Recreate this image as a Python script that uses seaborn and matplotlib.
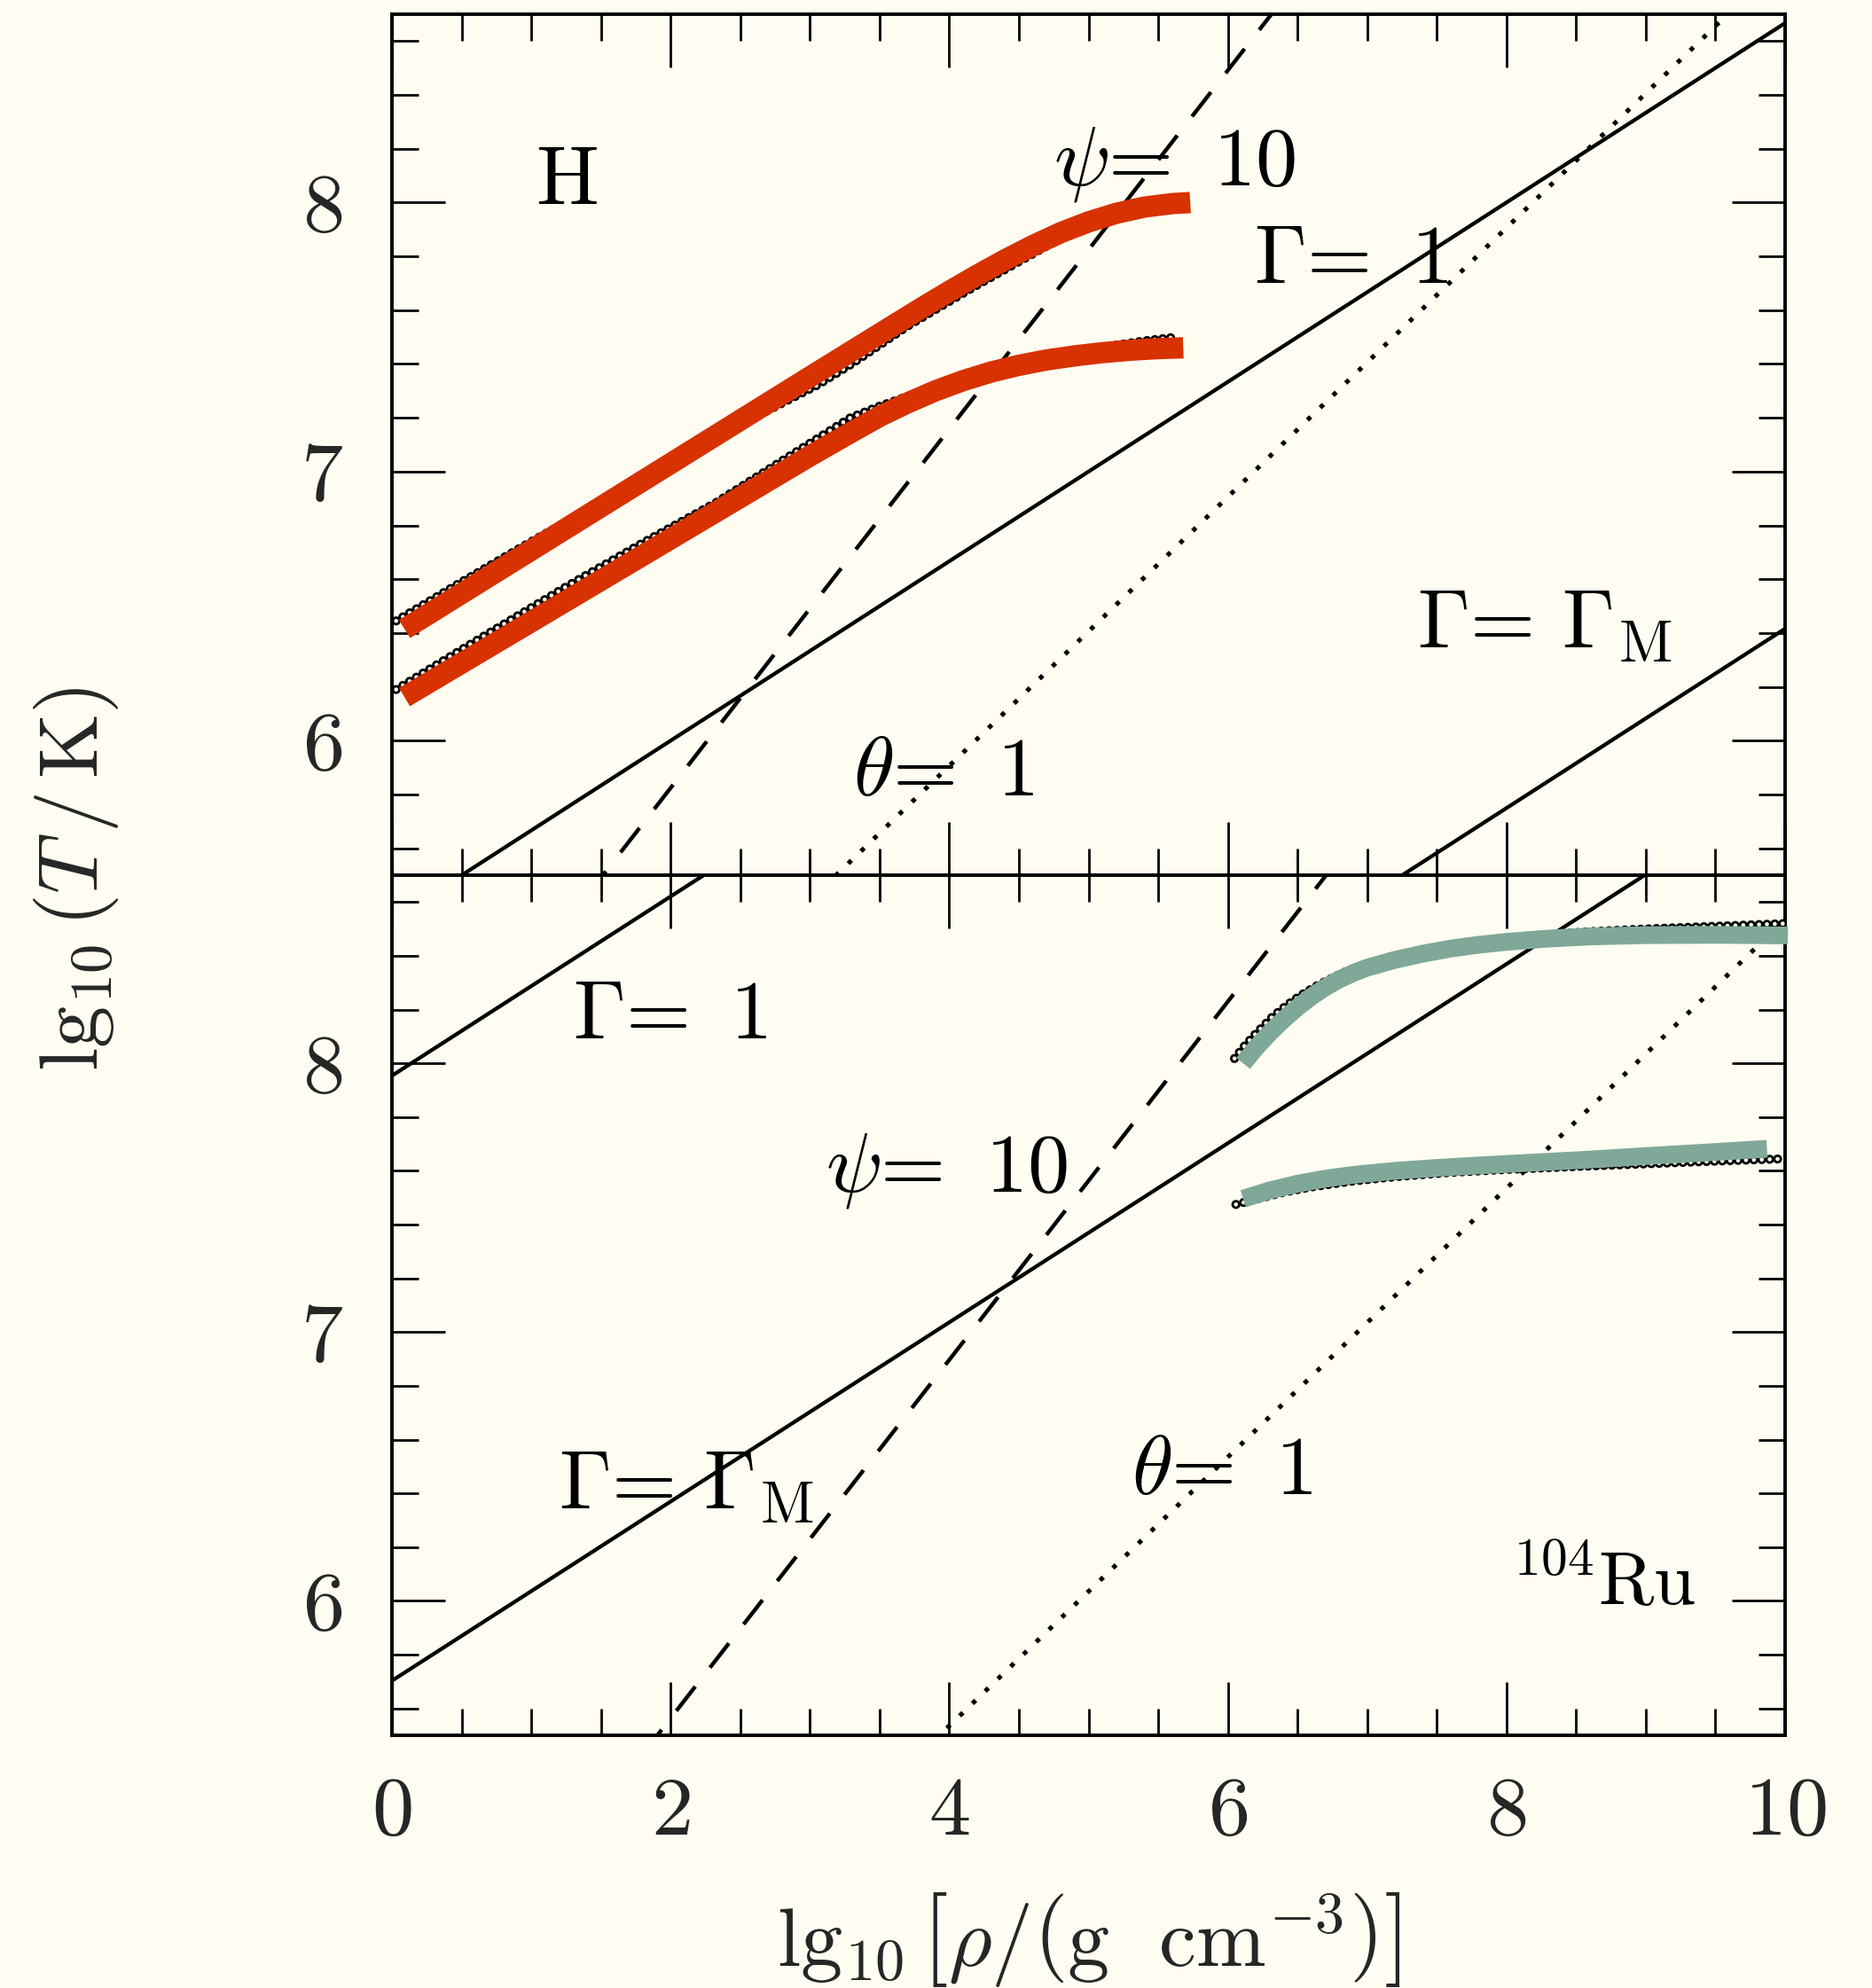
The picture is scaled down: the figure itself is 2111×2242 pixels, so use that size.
import matplotlib
matplotlib.use("Agg")
import matplotlib.pyplot as plt
import seaborn as sns
from matplotlib.ticker import MultipleLocator

# ---------------- data ----------------
X_LIM = (0.0, 10.0)
Y_LIM = (5.5, 8.7)

# --- H panel (top) ---
h_g1_x = [0.0, 10.0]
h_g1_y = [5.333, 8.667]            # Gamma = 1
h_gM_x = [7.0, 10.0]
h_gM_y = [5.416, 6.416]            # Gamma = Gamma_M
h_psi_x = [1.4, 6.4]
h_psi_y = [5.424, 8.758]           # psi = 10 (dashed)
h_th_x = [3.0, 9.6]
h_th_y = [5.406, 8.706]            # theta = 1 (dotted)

h_up_fit_x = [0.09, 1.0, 2.0, 3.0, 3.5, 3.8, 4.0, 4.2, 4.4, 4.6, 4.8, 5.0, 5.2, 5.4, 5.6, 5.73]
h_up_fit_y = [6.415, 6.708, 7.03, 7.352, 7.512, 7.608, 7.67, 7.73, 7.787, 7.84, 7.888,
              7.928, 7.96, 7.983, 7.996, 8.0]
h_lo_fit_x = [0.09, 1.0, 2.0, 3.0, 3.3, 3.5, 3.7, 3.9, 4.1, 4.3, 4.5, 4.7, 4.9, 5.1, 5.3, 5.5, 5.68]
h_lo_fit_y = [6.162, 6.442, 6.75, 7.058, 7.147, 7.205, 7.255, 7.30, 7.338, 7.37, 7.395,
              7.415, 7.43, 7.442, 7.451, 7.457, 7.46]

h_up_dat_x = [0.03, 0.5, 1.0, 1.5, 2.0, 2.5, 3.06, 3.3, 3.7, 4.14, 4.5, 4.78, 5.05, 5.3, 5.5, 5.64]
h_up_dat_y = [6.445, 6.59, 6.74, 6.885, 7.03, 7.175, 7.323, 7.40, 7.54, 7.675, 7.78, 7.862,
              7.918, 7.962, 7.995, 8.02]
h_lo_dat_x = [0.03, 0.6, 1.26, 1.8, 2.32, 2.8, 3.29, 3.5, 3.72, 3.95, 4.2, 4.4, 4.6,
              4.8, 5.0, 5.2, 5.4, 5.63]
h_lo_dat_y = [6.19, 6.37, 6.575, 6.735, 6.883, 7.04, 7.20, 7.243, 7.283, 7.323, 7.36,
              7.387, 7.41, 7.43, 7.452, 7.47, 7.486, 7.50]

# --- 104Ru panel (bottom) ---
r_g1_x = [0.0, 2.4]
r_g1_y = [7.954, 8.754]
r_gM_x = [0.0, 9.1]
r_gM_y = [5.703, 8.736]
r_psi_x = [1.8, 6.8]
r_psi_y = [5.43, 8.763]
r_th_x = [3.8, 10.0]
r_th_y = [5.435, 8.535]

r_up_fit_x = [6.11, 6.2, 6.3, 6.4, 6.5, 6.6, 6.7, 6.8, 6.9, 7.0, 7.2, 7.4, 7.6, 7.8,
              8.0, 8.3, 8.6, 9.0, 9.5, 10.02]
r_up_fit_y = [8.0, 8.057, 8.113, 8.163, 8.208, 8.248, 8.283, 8.312, 8.336, 8.356, 8.385,
              8.408, 8.427, 8.441, 8.452, 8.464, 8.472, 8.477, 8.478, 8.476]
r_lo_fit_x = [6.11, 6.3, 6.5, 6.7, 6.9, 7.2, 7.5, 7.8, 8.2, 8.6, 9.0, 9.4, 9.87]
r_lo_fit_y = [7.496, 7.527, 7.552, 7.571, 7.585, 7.60, 7.611, 7.62, 7.631, 7.642, 7.655,
              7.667, 7.682]

r_up_dat_x = [6.048, 6.12, 6.2, 6.32, 6.42, 6.52, 6.65, 6.83, 7.0, 7.2, 7.5, 7.8, 8.2,
              8.6, 9.0, 9.5, 10.0]
r_up_dat_y = [8.018, 8.065, 8.11, 8.173, 8.215, 8.252, 8.292, 8.338, 8.37, 8.40, 8.432,
              8.455, 8.475, 8.49, 8.50, 8.51, 8.52]
r_lo_dat_x = [6.058, 6.2, 6.4, 6.6, 6.9, 7.2, 7.6, 8.0, 8.5, 9.0, 9.5, 10.0]
r_lo_dat_y = [7.475, 7.494, 7.52, 7.54, 7.562, 7.578, 7.594, 7.605, 7.616, 7.626, 7.636, 7.645]

X_TICKS_MAJOR = 2.0
X_TICKS_MINOR = 0.5
Y_TICKS_MAJOR = 1.0
Y_TICKS_MINOR = 0.2

# ---------------- style ----------------
BG = "#FFFDF2"
RED = "#D73200"
GREEN = "#80A898"
FS = 68

sns.set_theme(style="ticks")
plt.rcParams.update({
    "font.family": "serif",
    "font.serif": ["cmr10"],
    "mathtext.fontset": "cm",
    "axes.formatter.use_mathtext": True,
    "axes.unicode_minus": False,
    "lines.scale_dashes": False,
    "figure.facecolor": BG,
    "axes.facecolor": BG,
})

fig = plt.figure(figsize=(21.11, 22.42), dpi=100)
FW, FH = 2111.0, 2242.0
L = 442 / FW
W = (2013 - 442) / FW
ax1 = fig.add_axes([L, 1 - 987 / FH, W, (987 - 16) / FH])
ax2 = fig.add_axes([L, 1 - 1957 / FH, W, (1957 - 987) / FH])


def draw(ax, x, y, color="black", lw=3.1, dashes=None, cap="butt", z=2, clip=True):
    sns.lineplot(x=x, y=y, ax=ax, color=color, linewidth=lw, estimator=None,
                 sort=False, legend=False, zorder=z, clip_on=clip)
    ln = ax.lines[-1]
    if dashes is not None:
        ln.set_dashes(dashes)
        ln.set_dash_capstyle(cap)
    ln.set_solid_capstyle(cap)
    ln.set_solid_joinstyle("round")
    return ln


def chain(ax, x, y):
    # small open circles along the computed curve
    draw(ax, x, y, color="black", lw=7.4, dashes=(0.01, 6.4), cap="round", z=3)
    draw(ax, x, y, color=BG, lw=3.4, dashes=(0.01, 6.4), cap="round", z=3.1)


def style(ax, show_x):
    ax.set_facecolor(BG)
    ax.set_xlim(*X_LIM)
    ax.set_ylim(*Y_LIM)
    ax.xaxis.set_major_locator(MultipleLocator(X_TICKS_MAJOR))
    ax.xaxis.set_minor_locator(MultipleLocator(X_TICKS_MINOR))
    ax.yaxis.set_major_locator(MultipleLocator(Y_TICKS_MAJOR))
    ax.yaxis.set_minor_locator(MultipleLocator(Y_TICKS_MINOR))
    ax.tick_params(which="both", direction="in", top=True, right=True,
                   bottom=True, left=True, width=2.0, color="black")
    ax.tick_params(which="major", length=43, labelsize=FS)
    ax.tick_params(which="minor", length=21.5)
    ax.tick_params(axis="x", labelbottom=show_x, pad=34)
    ax.tick_params(axis="y", pad=40)
    for s in ax.spines.values():
        s.set_visible(True)
        s.set_linewidth(2.8)
        s.set_color("black")
    ax.set_xlabel("")
    ax.set_ylabel("")


DASH = (25.0, 19.5)
DOT = (3.7, 10.7)

# ---- top panel: H ----
draw(ax1, h_g1_x, h_g1_y)
draw(ax1, h_gM_x, h_gM_y)
draw(ax1, h_psi_x, h_psi_y, lw=3.2, dashes=DASH)
draw(ax1, h_th_x, h_th_y, lw=3.7, dashes=DOT)
chain(ax1, h_up_dat_x, h_up_dat_y)
chain(ax1, h_lo_dat_x, h_lo_dat_y)
draw(ax1, h_up_fit_x, h_up_fit_y, color=RED, lw=17.3, z=4)
draw(ax1, h_lo_fit_x, h_lo_fit_y, color=RED, lw=17.3, z=4)

txt = dict(fontsize=FS, ha="left", va="baseline", color="black", zorder=1)
ax1.text(1.03, 7.994, "H", **txt)
ax1.text(4.75, 8.066, r"$\psi$= $\,$10", **txt)
ax1.text(6.19, 7.70, r"$\Gamma$= $\,$1", **txt)
ax1.text(7.36, 6.344, r"$\Gamma$= $\Gamma_{\mathrm{M}}$", **txt)
ax1.text(3.31, 5.796, r"$\theta$= $\,$1", **txt)
style(ax1, show_x=False)

# ---- bottom panel: 104Ru ----
draw(ax2, r_g1_x, r_g1_y)
draw(ax2, r_gM_x, r_gM_y)
draw(ax2, r_psi_x, r_psi_y, lw=3.2, dashes=DASH)
draw(ax2, r_th_x, r_th_y, lw=3.7, dashes=DOT)
chain(ax2, r_up_dat_x, r_up_dat_y)
chain(ax2, r_lo_dat_x, r_lo_dat_y)
draw(ax2, r_up_fit_x, r_up_fit_y, color=GREEN, lw=14.4, z=4, clip=False)
draw(ax2, r_lo_fit_x, r_lo_fit_y, color=GREEN, lw=14.4, z=4)

ax2.text(1.30, 8.093, r"$\Gamma$= $\,$1", **txt)
ax2.text(3.11, 7.525, r"$\psi$= $\,$10", **txt)
ax2.text(1.195, 6.34, r"$\Gamma$= $\Gamma_{\mathrm{M}}$", **txt)
ax2.text(5.31, 6.396, r"$\theta$= $\,$1", **txt)
ax2.text(8.03, 5.987, r"${}^{104}\mathrm{Ru}$", fontsize=61, ha="left",
         va="baseline", color="black")
style(ax2, show_x=True)

# ---- axis labels ----
fig.text(1228 / FW, 1 - 2217 / FH,
         r"$\mathrm{lg}_{10}\,\left[\rho/\left(\mathrm{g\ \ cm}^{-3}\right)\right]$",
         fontsize=FS, ha="center", va="baseline")
fig.text(110 / FW, 1 - 991 / FH,
         r"$\mathrm{lg}_{10}\,\left(T\,/\,\mathrm{K}\right)$",
         fontsize=FS, ha="center", va="baseline", rotation=90,
         rotation_mode="anchor")

fig.savefig("out.png", dpi=100, facecolor=BG)
